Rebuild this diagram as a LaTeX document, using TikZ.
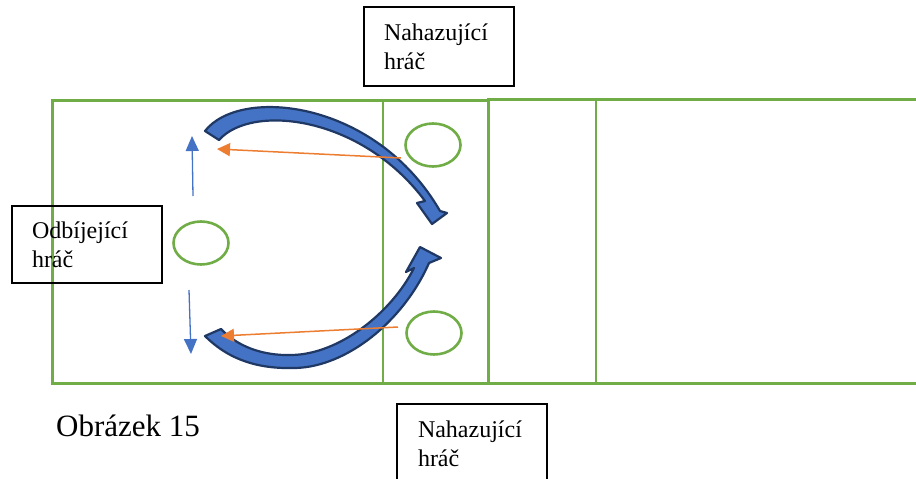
\documentclass[tikz,border=0pt]{standalone}
\usepackage{fontspec}
\setmainfont{Liberation Serif}
\usetikzlibrary{arrows.meta,shapes.geometric}
\definecolor{fieldgreen}{HTML}{70AD47}
\definecolor{accblue}{HTML}{4472C4}
\definecolor{navyline}{HTML}{1F3864}
\definecolor{accorange}{HTML}{ED7D31}
\begin{document}
\begin{tikzpicture}[x=1pt,y=-1pt,
  field/.style={draw=fieldgreen, line width=3pt},
  courtline/.style={draw=fieldgreen, line width=1.4pt},
  player/.style={draw=fieldgreen, line width=2.6pt, ellipse, minimum width=55pt, minimum height=43pt, inner sep=0pt},
  labelbox/.style={draw=black, line width=1.6pt, align=left, font=\fontsize{24}{29}\selectfont,
    text width=110pt, inner xsep=20pt, inner ysep=0pt, minimum height=79pt,
    text height=17pt, text depth=30pt},
  throwarrow/.style={draw=accorange, line width=1.5pt, -{Triangle[length=13pt,width=13pt]}},
  movearrow/.style={draw=accblue, line width=1.3pt, -{Triangle[length=15pt,width=13pt]}},
  bigarrow/.style={fill=accblue, draw=navyline, line width=2.2pt, line join=round}
]
\useasboundingbox (0,0) rectangle (916,479);

% court
\draw[field] (52,100) rectangle (488,383);
\draw[field] (488,99) rectangle (930,383);
\draw[courtline] (383,100) -- (383,383);
\draw[courtline] (596,99) -- (596,383);

% players
\node[player] (p1) at (201,243) {};
\node[player] (p2) at (433,145) {};
\node[player] (p3) at (434,333) {};

% label boxes
\node[labelbox] (top) at (439,46.5) {Nahazující\\hráč};
\node[labelbox, inner xsep=21pt, text width=108pt] (bottom) at (472,443.5) {Nahazující\\hráč};
\node[labelbox, minimum height=77pt] (left) at (87,244.5) {Odbíjející\\hráč};

% caption
\node[anchor=base west, inner sep=0pt, font=\fontsize{31}{36}\selectfont] (cap) at (56,436) {Obrázek 15};

% big curved arrows
\draw[bigarrow] (205,131) .. controls (240,86) and (376,100) .. (440,211)
  -- (447,213) -- (432,224) -- (417,203) -- (425,201)
  .. controls (362,116) and (252,103) .. (219,140) -- cycle;
\draw[bigarrow] (205,336) .. controls (230,361) and (260,369) .. (295,368)
  .. controls (346,367) and (403,322) .. (429,263)
  -- (441,258) -- (420,247) -- (406,272) -- (414,268)
  .. controls (392,312) and (340,354) .. (292,355)
  .. controls (262,356) and (237,346) .. (221,329) -- cycle;

% thin arrows
\coordinate (ot1) at (401,158);
\coordinate (oh1) at (217,149);
\coordinate (ot2) at (398,327);
\coordinate (oh2) at (221,336);
\draw[throwarrow] (ot1) -- (oh1);
\draw[throwarrow] (ot2) -- (oh2);

\coordinate (bt1) at (193,196);
\coordinate (bh1) at (192,136);
\coordinate (bt2) at (189,290);
\coordinate (bh2) at (191,354);
\draw[movearrow] (bt1) -- (bh1);
\draw[movearrow] (bt2) -- (bh2);
\end{tikzpicture}
\end{document}
